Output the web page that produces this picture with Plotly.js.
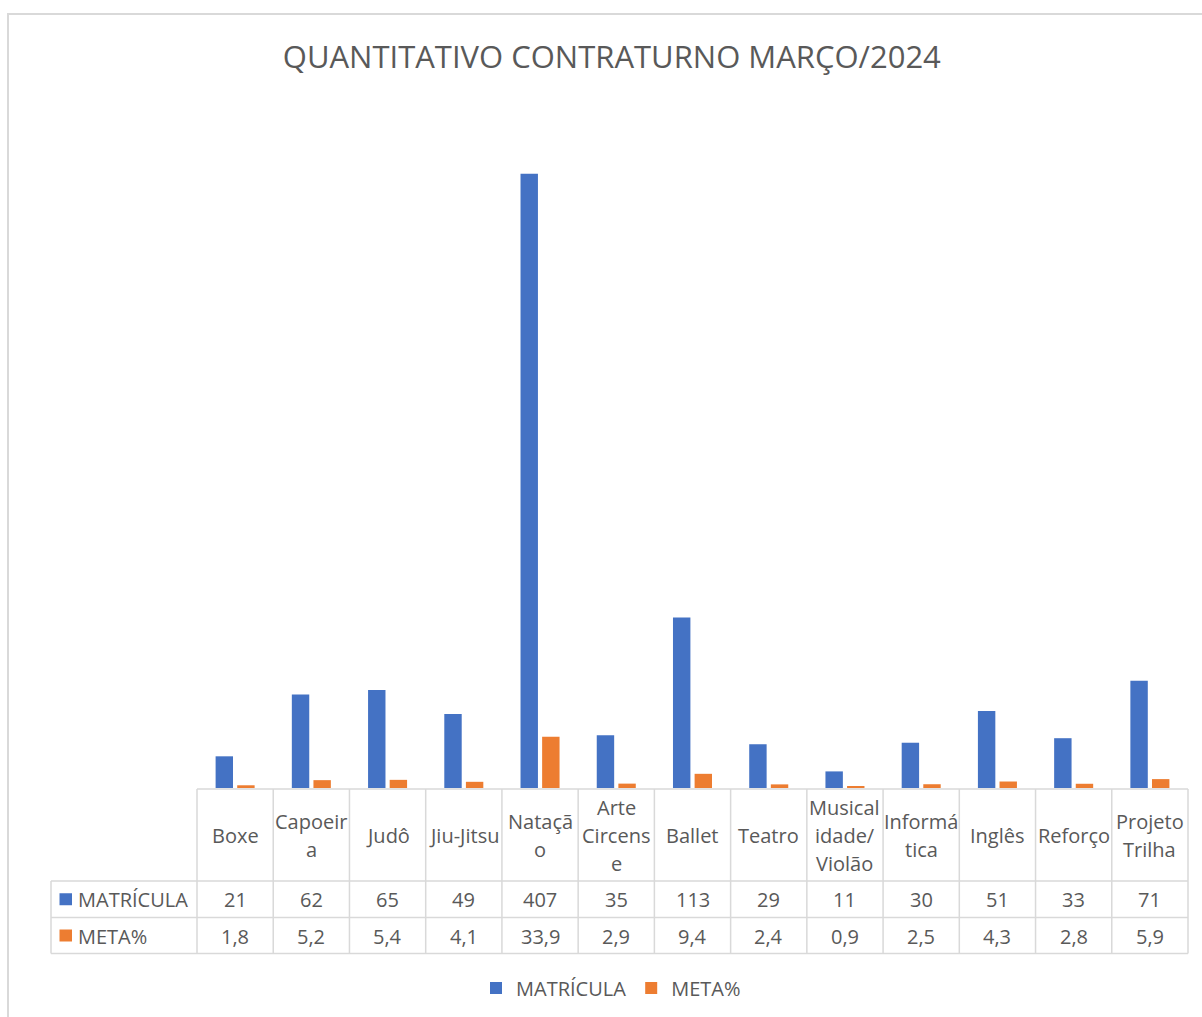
<!DOCTYPE html>
<html>
<head>
<meta charset="utf-8">
<script src="https://cdn.plot.ly/plotly-3.0.1.min.js"></script>
<style>html,body{margin:0;padding:0;background:#fff;}#chart{width:1202px;height:1017px;}</style>
</head>
<body>
<div id="chart"></div>
<script>
const categories = ['Boxe','Capoeira','Judô','Jiu-Jitsu','Natação','Arte Circense','Ballet','Teatro','Musicalidade/Violão','Informática','Inglês','Reforço','Projeto Trilha'];
const headerLines = [['Boxe'],['Capoeir','a'],['Judô'],['Jiu-Jitsu'],['Nataçã','o'],['Arte','Circens','e'],['Ballet'],['Teatro'],['Musical','idade/','Violão'],['Informá','tica'],['Inglês'],['Reforço'],['Projeto','Trilha']];
const matricula = [21,62,65,49,407,35,113,29,11,30,51,33,71];
const meta = [1.8,5.2,5.4,4.1,33.9,2.9,9.4,2.4,0.9,2.5,4.3,2.8,5.9];
const seriesNames = ['MATRÍCULA','META%'];
const colors = ['#4472C4','#ED7D31'];
const titleText = 'QUANTITATIVO CONTRATURNO MARÇO/2024';

const W = 1202, H = 1017;
const L = 197, R = 1188, B = 788, T = 108;
const px2x = p => (p - L) / (R - L);
const py2y = p => (B - p) / (B - T);
const colW = (R - L) / categories.length;
const fmt = v => v.toFixed(1).replace('.', ',');
const textColor = '#595959';
const lineColor = '#d9d9d9';
const FONT = 'Open Sans, sans-serif';
const FS = 20;

const shapes = [];
const annotations = [];
function hline(y, x0, x1) {
  shapes.push({type:'line', xref:'paper', yref:'paper', x0:px2x(x0), x1:px2x(x1), y0:py2y(y), y1:py2y(y), line:{color:lineColor, width:1.5}});
}
function vline(x, y0, y1) {
  shapes.push({type:'line', xref:'paper', yref:'paper', x0:px2x(x), x1:px2x(x), y0:py2y(y0), y1:py2y(y1), line:{color:lineColor, width:1.5}});
}
// chart border
shapes.push({type:'rect', xref:'paper', yref:'paper', x0:px2x(8), x1:px2x(1220), y0:py2y(14), y1:py2y(1040), line:{color:lineColor, width:2}, fillcolor:'rgba(0,0,0,0)'});
// data table grid
const yTop = 789, yHead = 881, yRow1 = 917.5, yBot = 953.5, xLeft = 51;
hline(yTop, L, R);
hline(yHead, xLeft, R);
hline(yRow1, xLeft, R);
hline(yBot, xLeft, R);
vline(xLeft, yHead, yBot);
for (let i = 0; i <= categories.length; i++) vline(L + i * colW, yTop, yBot);

// header labels
const headCenter = (yTop + yHead) / 2 + 0.5;
const lineH = 28.3;
headerLines.forEach((lines, i) => {
  lines.forEach((t, k) => {
    const yy = headCenter + (k - (lines.length - 1) / 2) * lineH;
    annotations.push({xref:'x', yref:'paper', x:i, y:py2y(yy), text:t, showarrow:false, xanchor:'center', yanchor:'middle', font:{family:FONT, size:FS, color:textColor}});
  });
});
// data rows
const rowCenters = [(yHead + yRow1) / 2 + 0.5, (yRow1 + yBot) / 2 + 0.5];
const rowTexts = [matricula.map(v => String(v)), meta.map(fmt)];
rowTexts.forEach((arr, r) => {
  arr.forEach((t, i) => {
    annotations.push({xref:'x', yref:'paper', x:i, y:py2y(rowCenters[r]), text:t, showarrow:false, xanchor:'center', yanchor:'middle', font:{family:FONT, size:FS, color:textColor}});
  });
  // row label key square + text
  shapes.push({type:'rect', xref:'paper', yref:'paper', x0:px2x(59.5), x1:px2x(72), y0:py2y(rowCenters[r] - 6.5), y1:py2y(rowCenters[r] + 5.5), line:{width:0}, fillcolor:colors[r]});
  annotations.push({xref:'paper', yref:'paper', x:px2x(76), y:py2y(rowCenters[r]), text:seriesNames[r], showarrow:false, xanchor:'left', yanchor:'middle', font:{family:FONT, size:FS, color:textColor}});
});

const traces = [
  {type:'bar', name:seriesNames[0], x:categories.map((c,i)=>i), y:matricula, marker:{color:colors[0]}, hoverinfo:'x+y'},
  {type:'bar', name:seriesNames[1], x:categories.map((c,i)=>i), y:meta, marker:{color:colors[1]}, hoverinfo:'x+y'}
];

const layout = {
  width: W, height: H,
  margin: {l: L, r: W - R, t: T, b: H - B, pad: 0, autoexpand: false},
  paper_bgcolor: '#ffffff', plot_bgcolor: '#ffffff',
  title: {text: titleText, x: 0.509, xref: 'container', y: 1 - 57 / H, yref: 'container', xanchor: 'center', yanchor: 'middle', font: {family: FONT, size: 31, color: textColor}},
  barmode: 'group', bargap: 0.433, bargroupgap: 0.194,
  xaxis: {type: 'linear', range: [-0.5, categories.length - 0.5], showgrid: false, zeroline: false, showticklabels: false, ticks: '', showline: false, fixedrange: true},
  yaxis: {range: [0, (B - T) / 1.509], showgrid: false, zeroline: false, showticklabels: false, ticks: '', showline: false, fixedrange: true},
  showlegend: true,
  legend: {orientation: 'h', x: px2x(611), xanchor: 'center', y: py2y(988), yanchor: 'middle', font: {family: FONT, size: FS, color: textColor}, bgcolor: 'rgba(0,0,0,0)', itemclick: false, itemdoubleclick: false},
  shapes: shapes,
  annotations: annotations
};

Plotly.newPlot('chart', traces, layout, {displayModeBar: false, staticPlot: false});
</script>
</body>
</html>
